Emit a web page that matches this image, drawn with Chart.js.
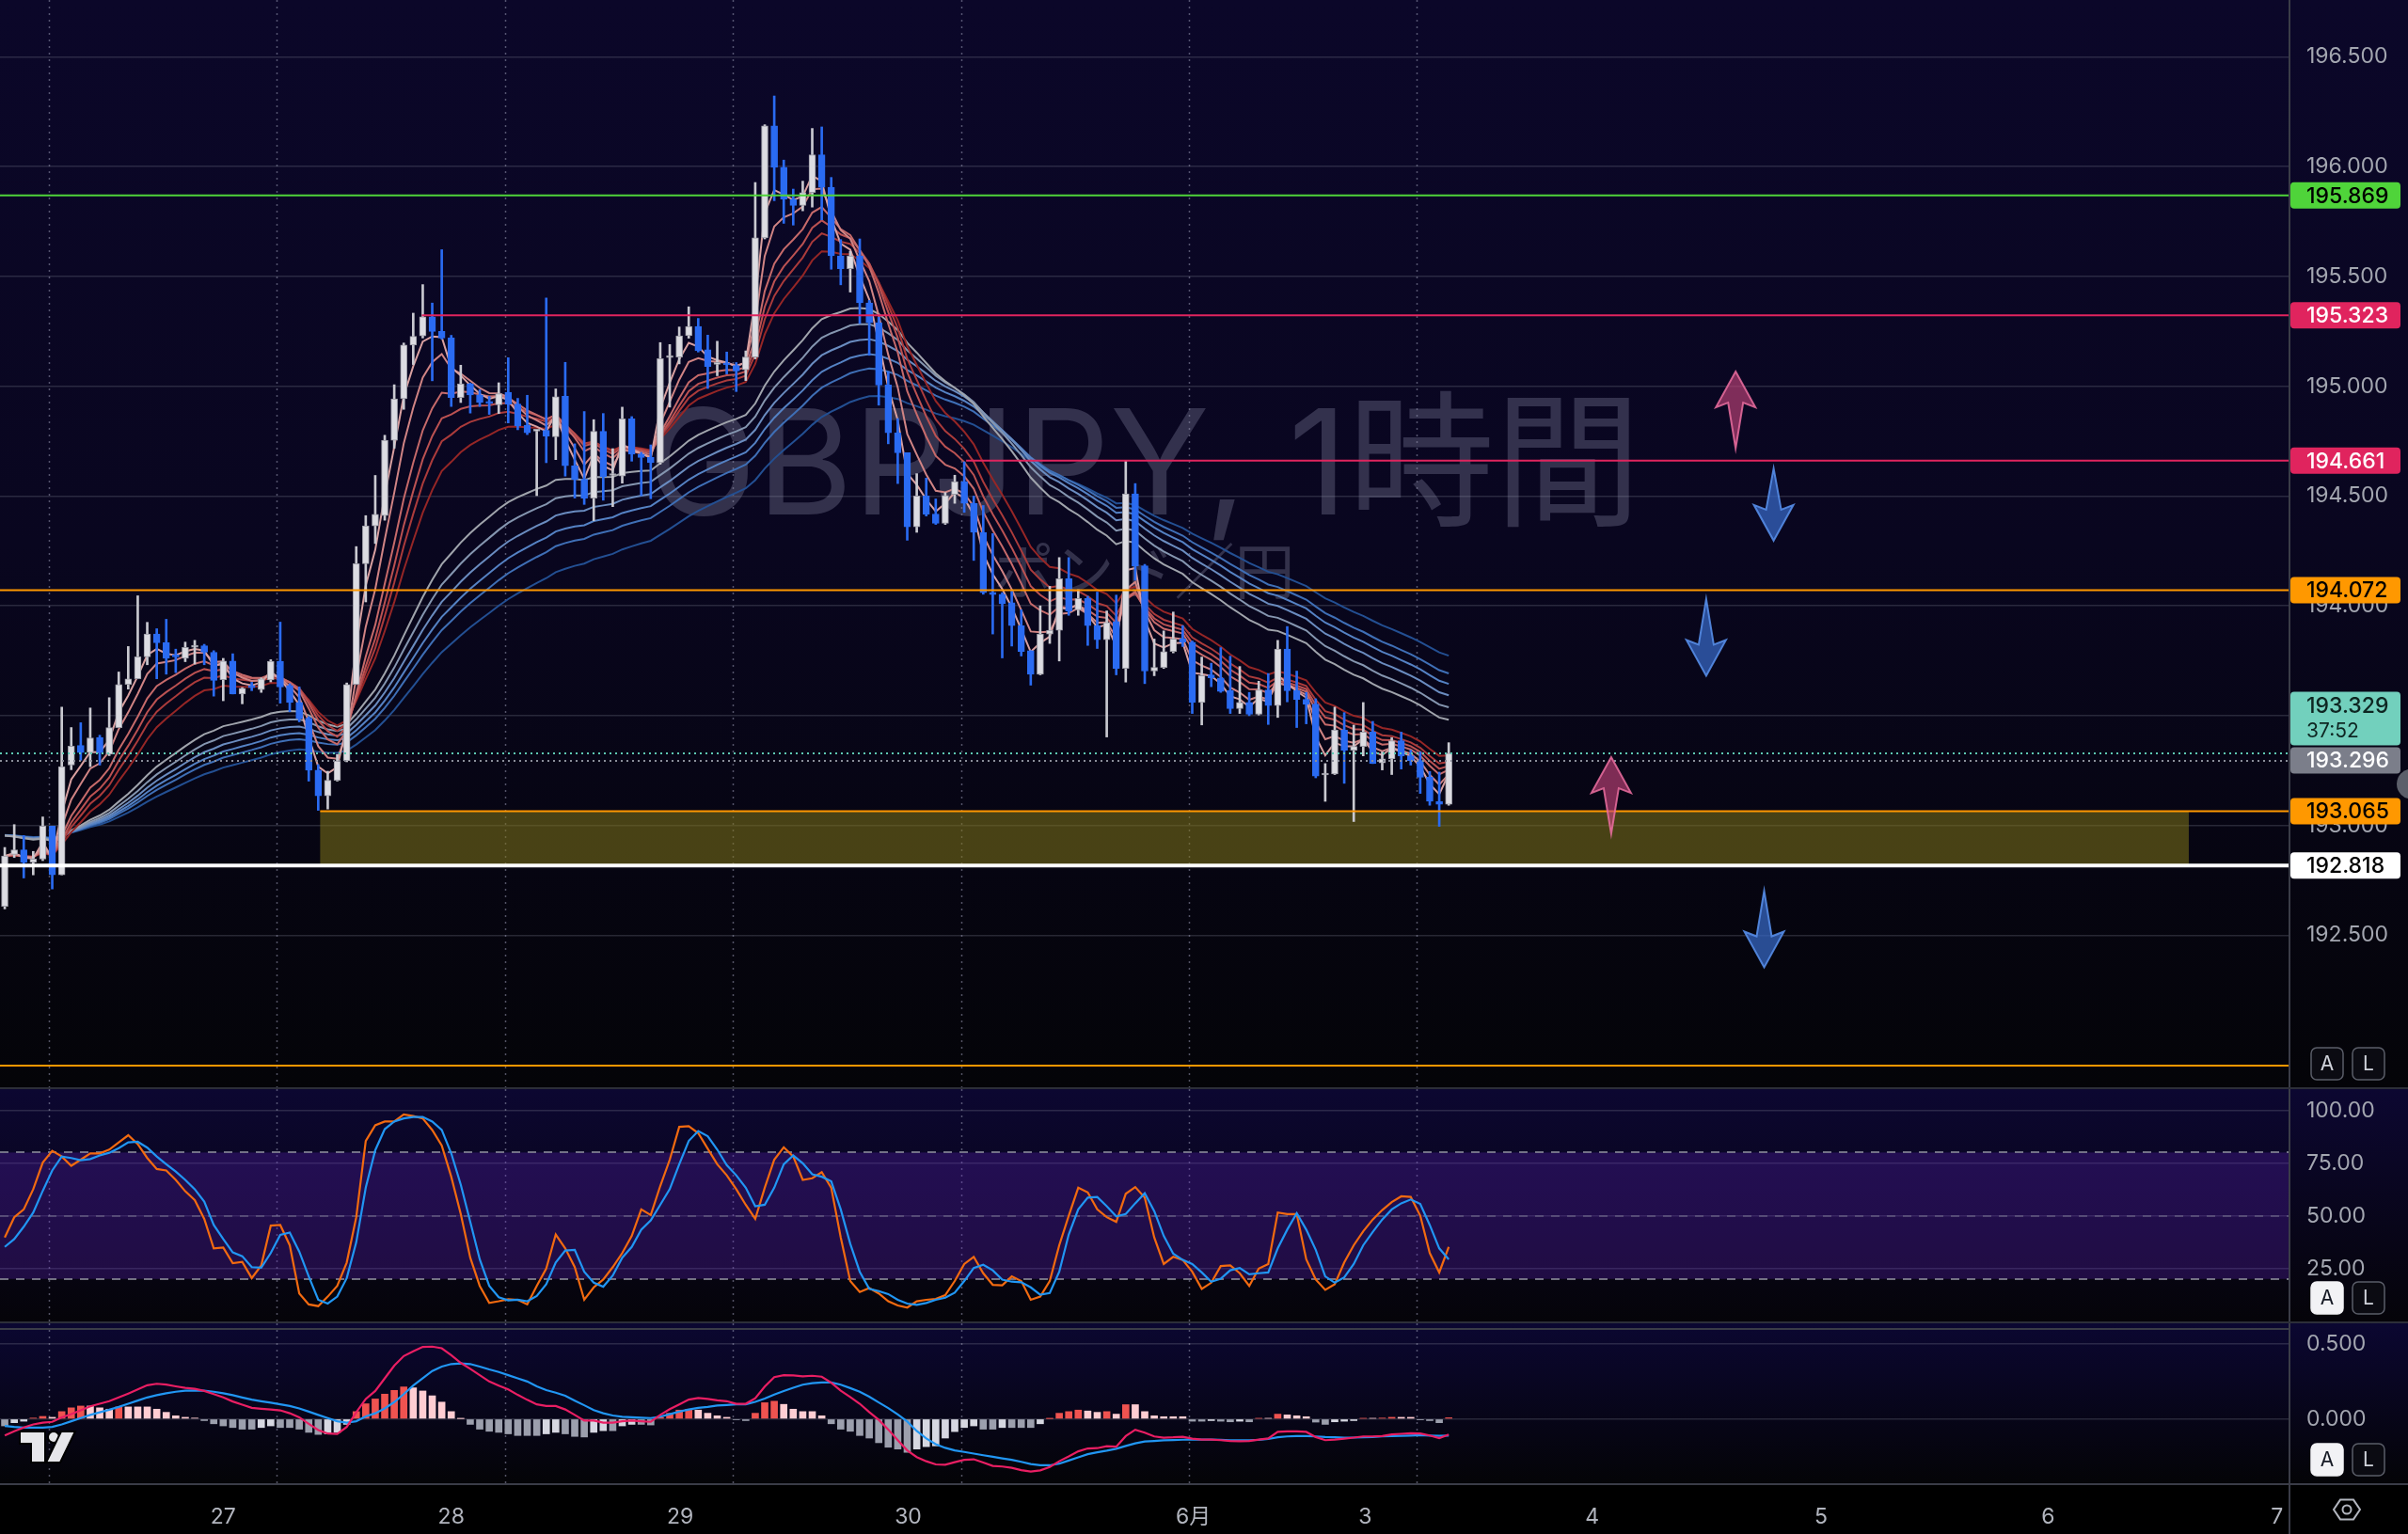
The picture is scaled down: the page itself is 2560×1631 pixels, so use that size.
<!DOCTYPE html>
<html>
<head>
<meta charset="utf-8">
<script src="https://cdn.jsdelivr.net/npm/chart.js@4.4.1/dist/chart.umd.min.js"></script>
<style>
  html, body { margin: 0; padding: 0; width: 2560px; height: 1631px; overflow: hidden; background: #2c2e38; }
  .pane { position: absolute; left: 0; width: 2560px; }
</style>
</head>
<body>
<div class="pane" style="top:0;height:1156px"><canvas id="main"></canvas></div>
<div class="pane" style="top:1158px;height:247px"><canvas id="stoch"></canvas></div>
<div class="pane" style="top:1407px;height:224px"><canvas id="macd"></canvas></div>
<script>
// GBPJPY 1h candles (bar index 0 = first visible bar)
const open = [
  192.632, 192.868, 192.889, 192.832, 192.847, 192.997, 192.775, 193.275, 193.364, 193.332,
  193.401, 193.325, 193.446, 193.642, 193.668, 193.768, 193.872, 193.832, 193.775, 193.761,
  193.812, 193.818, 193.789, 193.664, 193.749, 193.599, 193.637, 193.619, 193.663, 193.748,
  193.637, 193.560, 193.489, 193.252, 193.135, 193.206, 193.294, 193.642, 194.192, 194.364,
  194.411, 194.754, 194.943, 195.188, 195.229, 195.316, 195.250, 195.220, 194.949, 195.011,
  194.961, 194.930, 194.916, 194.973, 194.919, 194.823, 194.796, 194.799, 194.770, 194.955,
  194.638, 194.576, 194.491, 194.795, 194.594, 194.591, 194.852, 194.691, 194.676, 194.652,
  195.131, 195.133, 195.230, 195.273, 195.166, 195.100, 195.105, 195.095, 195.075, 195.133,
  195.676, 196.186, 195.997, 195.852, 195.824, 195.882, 196.054, 195.906, 195.594, 195.536,
  195.594, 195.380, 195.289, 195.006, 194.788, 194.697, 194.360, 194.500, 194.418, 194.376,
  194.508, 194.566, 194.467, 194.335, 194.062, 194.053, 194.014, 193.910, 193.796, 193.689,
  193.872, 193.889, 194.124, 193.982, 194.034, 193.910, 193.846, 193.929, 193.715, 194.510,
  194.182, 193.703, 193.720, 193.792, 193.849, 193.835, 193.560, 193.686, 193.672, 193.614,
  193.532, 193.560, 193.506, 193.617, 193.546, 193.803, 193.614, 193.574, 193.553, 193.230,
  193.235, 193.435, 193.343, 193.360, 193.425, 193.285, 193.303, 193.386, 193.317, 193.296,
  193.220, 193.110, 193.096
]
const high = [
  192.900, 193.004, 192.954, 192.882, 193.039, 192.997, 193.539, 193.446, 193.468, 193.535,
  193.411, 193.582, 193.699, 193.815, 194.046, 193.925, 193.896, 193.939, 193.803, 193.835,
  193.843, 193.825, 193.796, 193.761, 193.782, 193.628, 193.652, 193.672, 193.755, 193.926,
  193.645, 193.631, 193.495, 193.277, 193.247, 193.323, 193.649, 194.270, 194.411, 194.594,
  194.777, 195.007, 195.197, 195.333, 195.463, 195.379, 195.622, 195.232, 195.096, 195.014,
  194.984, 194.954, 195.016, 195.130, 194.945, 194.959, 194.802, 195.402, 194.988, 195.109,
  194.738, 194.885, 194.848, 194.876, 194.716, 194.905, 194.862, 194.699, 194.733, 195.199,
  195.190, 195.270, 195.362, 195.309, 195.233, 195.205, 195.156, 195.108, 195.161, 195.928,
  196.191, 196.322, 196.030, 195.898, 195.934, 196.174, 196.181, 195.951, 195.668, 195.615,
  195.671, 195.391, 195.314, 195.067, 194.853, 194.697, 194.602, 194.582, 194.487, 194.516,
  194.595, 194.656, 194.500, 194.457, 194.329, 194.060, 194.067, 193.982, 193.796, 194.000,
  194.089, 194.220, 194.220, 194.074, 194.044, 194.063, 193.977, 194.049, 194.660, 194.557,
  194.189, 193.849, 193.886, 193.972, 193.910, 193.840, 193.767, 193.739, 193.810, 193.771,
  193.724, 193.606, 193.657, 193.692, 193.843, 193.906, 193.703, 193.606, 193.577, 193.282,
  193.539, 193.514, 193.457, 193.560, 193.474, 193.335, 193.400, 193.425, 193.343, 193.335,
  193.246, 193.243, 193.377
]
const low = [
  192.620, 192.854, 192.761, 192.775, 192.840, 192.711, 192.775, 193.254, 193.297, 193.268,
  193.275, 193.318, 193.446, 193.621, 193.668, 193.732, 193.668, 193.689, 193.696, 193.746,
  193.735, 193.732, 193.589, 193.568, 193.599, 193.554, 193.614, 193.606, 193.654, 193.557,
  193.518, 193.472, 193.202, 193.069, 193.075, 193.202, 193.290, 193.642, 194.018, 194.284,
  194.390, 194.718, 194.895, 195.099, 195.220, 195.025, 195.215, 194.908, 194.926, 194.878,
  194.908, 194.872, 194.876, 194.833, 194.802, 194.780, 194.502, 194.652, 194.666, 194.591,
  194.491, 194.462, 194.388, 194.481, 194.452, 194.559, 194.659, 194.502, 194.488, 194.645,
  194.905, 195.102, 195.219, 195.156, 194.990, 195.048, 195.056, 194.976, 195.026, 195.125,
  195.671, 195.845, 195.742, 195.734, 195.799, 195.816, 195.758, 195.533, 195.462, 195.429,
  195.286, 195.141, 194.914, 194.738, 194.557, 194.299, 194.335, 194.409, 194.371, 194.371,
  194.467, 194.426, 194.207, 194.053, 193.872, 193.763, 193.817, 193.772, 193.639, 193.686,
  193.829, 193.749, 193.957, 193.957, 193.820, 193.806, 193.403, 193.686, 193.653, 194.117,
  193.646, 193.682, 193.715, 193.786, 193.815, 193.510, 193.458, 193.632, 193.606, 193.510,
  193.510, 193.500, 193.503, 193.460, 193.492, 193.563, 193.446, 193.463, 193.217, 193.110,
  193.232, 193.192, 193.018, 193.317, 193.282, 193.253, 193.232, 193.257, 193.275, 193.146,
  193.092, 192.996, 193.092
]
const close = [
  192.861, 192.889, 192.832, 192.847, 192.997, 192.775, 193.268, 193.361, 193.332, 193.399,
  193.332, 193.446, 193.642, 193.668, 193.768, 193.872, 193.832, 193.761, 193.768, 193.811,
  193.815, 193.789, 193.661, 193.749, 193.599, 193.625, 193.628, 193.667, 193.748, 193.631,
  193.560, 193.486, 193.252, 193.135, 193.206, 193.294, 193.642, 194.192, 194.364, 194.417,
  194.754, 194.943, 195.188, 195.227, 195.316, 195.250, 195.220, 194.949, 195.011, 194.961,
  194.926, 194.922, 194.966, 194.919, 194.819, 194.788, 194.800, 194.773, 194.952, 194.638,
  194.576, 194.491, 194.795, 194.588, 194.597, 194.852, 194.691, 194.676, 194.652, 195.126,
  195.133, 195.230, 195.273, 195.162, 195.090, 195.102, 195.098, 195.070, 195.133, 195.676,
  196.186, 195.997, 195.852, 195.824, 195.882, 196.054, 195.906, 195.594, 195.536, 195.594,
  195.380, 195.289, 195.006, 194.788, 194.697, 194.360, 194.500, 194.418, 194.376, 194.503,
  194.566, 194.467, 194.335, 194.060, 194.052, 194.010, 193.910, 193.792, 193.689, 193.872,
  193.889, 194.124, 193.977, 194.034, 193.910, 193.846, 193.925, 193.715, 194.510, 194.182,
  193.703, 193.720, 193.792, 193.849, 193.835, 193.560, 193.682, 193.672, 193.610, 193.532,
  193.560, 193.506, 193.617, 193.546, 193.803, 193.614, 193.574, 193.553, 193.225, 193.235,
  193.435, 193.343, 193.360, 193.425, 193.282, 193.303, 193.386, 193.317, 193.296, 193.220,
  193.110, 193.096, 193.329
]

// Stoch RSI %K / %D
const stochK = [
  39.7, 49.3, 53.0, 62.6, 75.2, 80.8, 78.1, 73.7, 76.6, 79.6,
  79.6, 81.4, 84.8, 88.2, 84.0, 77.4, 72.2, 71.5, 67.0, 61.6,
  57.4, 48.5, 34.5, 34.9, 27.5, 28.1, 20.4, 26.4, 45.3, 45.6,
  36.0, 13.1, 7.9, 7.1, 11.6, 16.7, 27.8, 49.3, 85.5, 92.9,
  94.7, 94.7, 98.1, 97.3, 96.2, 90.7, 83.3, 68.5, 50.8, 30.1,
  16.7, 8.6, 9.4, 10.4, 10.1, 7.9, 16.7, 24.9, 41.1, 34.5,
  25.6, 10.1, 16.0, 19.7, 25.6, 32.3, 40.4, 53.0, 50.3, 64.1,
  76.6, 92.2, 92.5, 89.2, 81.8, 74.4, 69.2, 62.6, 55.2, 48.5,
  63.3, 76.6, 82.5, 78.1, 67.0, 67.8, 70.7, 63.3, 39.7, 19.0,
  13.8, 15.7, 13.1, 9.4, 7.4, 6.4, 9.4, 10.1, 10.5, 12.3,
  19.0, 27.1, 30.5, 22.7, 17.2, 17.0, 21.2, 19.0, 10.1, 11.6,
  19.0, 36.0, 50.0, 63.3, 61.1, 53.0, 49.3, 47.1, 60.4, 63.6,
  58.6, 39.7, 27.1, 30.5, 29.0, 23.4, 15.3, 18.2, 26.1, 26.4,
  22.7, 16.7, 24.9, 27.1, 51.5, 50.8, 50.8, 29.3, 19.7, 14.8,
  17.5, 27.8, 36.0, 42.6, 48.2, 52.7, 56.5, 59.2, 58.9, 50.0,
  32.3, 23.1, 35.2
]
const stochD = [
  35.2, 38.9, 44.8, 51.5, 61.8, 71.5, 78.1, 77.4, 76.3, 76.9,
  78.6, 79.9, 82.1, 84.8, 85.1, 82.3, 78.1, 74.4, 71.0, 67.0,
  62.6, 56.7, 45.6, 38.9, 32.6, 30.8, 25.6, 25.3, 32.3, 40.9,
  42.0, 33.0, 21.2, 10.1, 8.3, 11.6, 20.4, 37.4, 63.3, 81.1,
  91.1, 94.7, 96.2, 96.9, 96.9, 94.7, 90.7, 79.6, 64.8, 47.1,
  29.3, 16.7, 11.3, 9.8, 10.1, 9.4, 11.9, 17.5, 27.8, 33.5,
  33.8, 23.4, 18.2, 16.3, 21.6, 30.1, 35.2, 43.4, 47.8, 55.2,
  62.6, 74.4, 85.5, 90.2, 87.7, 81.4, 74.0, 69.2, 63.3, 54.5,
  55.2, 63.3, 74.4, 78.6, 74.9, 69.7, 68.5, 66.3, 53.0, 36.7,
  23.4, 15.3, 14.2, 12.8, 10.1, 8.3, 7.7, 8.6, 10.1, 11.1,
  13.5, 19.0, 25.2, 26.7, 24.1, 19.7, 18.7, 18.4, 16.0, 12.5,
  13.3, 23.4, 41.1, 53.0, 58.6, 58.9, 54.5, 49.7, 50.8, 55.9,
  60.7, 52.2, 40.4, 32.0, 29.0, 27.1, 23.1, 18.7, 20.1, 24.1,
  25.2, 22.2, 22.7, 23.1, 34.5, 43.4, 51.2, 43.4, 33.8, 21.2,
  18.2, 20.7, 27.1, 36.0, 42.3, 48.2, 53.0, 55.9, 57.7, 55.6,
  45.6, 34.5, 29.3
]

// MACD line, signal, histogram
const macdLine = [
  -0.110, -0.082, -0.057, -0.036, -0.025, -0.019, 0.011, 0.032, 0.057, 0.084,
  0.101, 0.118, 0.143, 0.169, 0.196, 0.224, 0.234, 0.228, 0.217, 0.207,
  0.200, 0.186, 0.165, 0.143, 0.116, 0.095, 0.074, 0.068, 0.063, 0.057,
  0.038, 0.011, -0.032, -0.074, -0.097, -0.099, -0.053, 0.044, 0.133, 0.186,
  0.270, 0.354, 0.418, 0.449, 0.479, 0.481, 0.470, 0.424, 0.373, 0.333,
  0.291, 0.249, 0.222, 0.196, 0.160, 0.127, 0.097, 0.086, 0.086, 0.063,
  0.027, -0.011, -0.011, -0.025, -0.025, -0.015, -0.011, -0.015, -0.019, 0.027,
  0.065, 0.097, 0.129, 0.139, 0.133, 0.124, 0.118, 0.101, 0.101, 0.137,
  0.215, 0.278, 0.291, 0.289, 0.283, 0.287, 0.281, 0.241, 0.188, 0.146,
  0.101, 0.046, -0.006, -0.070, -0.141, -0.209, -0.253, -0.281, -0.302, -0.304,
  -0.287, -0.272, -0.268, -0.289, -0.312, -0.316, -0.325, -0.340, -0.350, -0.342,
  -0.319, -0.281, -0.249, -0.215, -0.196, -0.194, -0.181, -0.184, -0.114, -0.072,
  -0.091, -0.116, -0.124, -0.122, -0.118, -0.131, -0.137, -0.137, -0.141, -0.146,
  -0.148, -0.146, -0.137, -0.129, -0.086, -0.082, -0.082, -0.086, -0.120, -0.141,
  -0.137, -0.131, -0.124, -0.116, -0.116, -0.114, -0.103, -0.099, -0.095, -0.097,
  -0.110, -0.127, -0.103
]
const macdSignal = [
  -0.046, -0.053, -0.057, -0.057, -0.057, -0.053, -0.036, -0.015, 0.006, 0.027,
  0.044, 0.061, 0.080, 0.101, 0.122, 0.143, 0.158, 0.171, 0.181, 0.188,
  0.190, 0.188, 0.181, 0.171, 0.158, 0.143, 0.129, 0.118, 0.108, 0.097,
  0.086, 0.070, 0.049, 0.027, 0.006, -0.015, -0.025, -0.015, 0.017, 0.038,
  0.070, 0.112, 0.165, 0.222, 0.270, 0.319, 0.348, 0.365, 0.369, 0.365,
  0.348, 0.329, 0.312, 0.291, 0.270, 0.249, 0.217, 0.192, 0.175, 0.154,
  0.122, 0.091, 0.059, 0.038, 0.023, 0.015, 0.011, 0.008, 0.006, 0.015,
  0.032, 0.049, 0.063, 0.074, 0.080, 0.089, 0.093, 0.097, 0.097, 0.114,
  0.135, 0.162, 0.186, 0.207, 0.228, 0.238, 0.243, 0.243, 0.228, 0.205,
  0.181, 0.148, 0.110, 0.072, 0.030, -0.017, -0.080, -0.129, -0.167, -0.192,
  -0.209, -0.219, -0.230, -0.241, -0.251, -0.262, -0.272, -0.285, -0.300, -0.308,
  -0.308, -0.297, -0.276, -0.255, -0.234, -0.222, -0.211, -0.198, -0.179, -0.162,
  -0.150, -0.146, -0.142, -0.140, -0.138, -0.136, -0.137, -0.137, -0.139, -0.141,
  -0.141, -0.141, -0.139, -0.133, -0.122, -0.116, -0.114, -0.114, -0.116, -0.120,
  -0.122, -0.124, -0.124, -0.122, -0.120, -0.116, -0.114, -0.112, -0.110, -0.108,
  -0.110, -0.112, -0.110
]
const macdHist = [
  -0.046, -0.025, -0.015, 0.006, 0.017, 0.011, 0.049, 0.074, 0.086, 0.086,
  0.074, 0.065, 0.080, 0.080, 0.080, 0.080, 0.065, 0.044, 0.021, 0.011,
  0.006, -0.011, -0.032, -0.046, -0.057, -0.068, -0.068, -0.057, -0.046, -0.057,
  -0.057, -0.068, -0.089, -0.103, -0.099, -0.089, -0.036, 0.049, 0.101, 0.133,
  0.165, 0.190, 0.213, 0.207, 0.186, 0.154, 0.112, 0.049, 0.002, -0.036,
  -0.068, -0.082, -0.089, -0.099, -0.110, -0.110, -0.110, -0.099, -0.089, -0.099,
  -0.116, -0.120, -0.089, -0.078, -0.078, -0.046, -0.036, -0.036, -0.040, 0.011,
  0.038, 0.059, 0.065, 0.059, 0.038, 0.021, 0.011, -0.004, -0.011, 0.038,
  0.108, 0.118, 0.097, 0.065, 0.049, 0.049, 0.021, -0.032, -0.068, -0.082,
  -0.110, -0.127, -0.158, -0.188, -0.200, -0.222, -0.200, -0.184, -0.179, -0.127,
  -0.084, -0.057, -0.046, -0.068, -0.068, -0.057, -0.057, -0.057, -0.057, -0.032,
  0.002, 0.038, 0.049, 0.059, 0.053, 0.044, 0.049, 0.032, 0.095, 0.095,
  0.049, 0.021, 0.015, 0.015, 0.015, -0.015, -0.015, -0.011, -0.015, -0.019,
  -0.015, -0.019, 0.004, 0.004, 0.032, 0.027, 0.021, 0.015, -0.021, -0.036,
  -0.019, -0.015, -0.011, 0.004, 0.004, 0.006, 0.011, 0.011, 0.011, -0.006,
  -0.011, -0.025, 0.008
]

// axis ticks
const priceTicks = [192.5, 193, 193.5, 194, 194.5, 195, 195.5, 196, 196.5]
const stochTicks = [25, 50, 75, 100]
const stochLevels = [80, 50, 20]
const macdTicks = [0, 0.5]
const dayTickBars = [23, 47, 71.1, 95.1, 125.1, 143.2, 167.1, 191.2, 215.1, 239.2]
const dayTickText = ['27', '28', '29', '30', '6月', '3', '4', '5', '6', '7']
const gridBars = [4.65, 28.65, 52.65, 76.65, 100.65, 124.65, 148.65]

// drawn levels (price, bar where the ray starts; null = full width)
const levelPrice = [195.869, 195.323, 194.661, 194.072, 193.065, 192.818, 191.906]
const levelFrom = [null, 43.9, 101.2, null, 33.2, null, null]
const lastPrice = 193.329
const bidPrice = 193.296
const countdown = '37:52'

// support zone
const zoneBars = [33.2, 229.9]
const zonePrices = [193.065, 192.818]

// arrow drawings: bar, tip price, tail price
const arrowBar = [182.2, 169.1, 186.2, 179.1, 185.2]
const arrowTip = [195.067, 193.311, 194.297, 193.682, 192.354]
const arrowTail = [194.717, 192.962, 194.626, 194.031, 192.703]

// GMMA ribbon periods and the level they start from at the left edge
const shortPeriods = [3, 5, 8, 10, 12, 15]
const longPeriods = [30, 35, 40, 45, 50, 60]
const shortStart = 192.86
const longStart = 192.96

// ---------- styles ----------
const FONT = 'Inter, "Noto Sans CJK JP", "Noto Sans", sans-serif'
const AXIS_W = 127
const X_MIN = -0.5
const X_MAX = 240.4
const UP = '#dcdce2'
const UP_EDGE = '#9a9aa4'
const DOWN = '#2a6bf2'
const shortColors = ['#d9a0a0', '#d08484', '#c66a6a', '#bb5252', '#ab3b3b', '#952626']
const longColors = ['#a0a4ac', '#8596b0', '#6a8cc0', '#5582c4', '#3f6fb6', '#234f92']
const levelColor = ['#4fd43a', '#e0245e', '#e0245e', '#ff9800', '#ff9800', '#ffffff', '#ff9800']
const levelWidth = [2, 2, 2, 2, 2, 4, 2]
const tagFg = ['#000000', '#ffffff', '#ffffff', '#000000', '#000000', '#000000', null]

const bars = close.map((c, i) => i)
const ema = (n, start) => {
  const k = 2 / (n + 1)
  let v = start
  return close.map((c, i) => { v += k * (c - v); return { x: i, y: v } })
}

// ---------- shared plugins ----------
function paneBackground(stops) {
  return {
    id: 'paneBackground',
    beforeDraw(chart) {
      const { ctx, chartArea: a } = chart
      ctx.save()
      ctx.fillStyle = '#000000'
      ctx.fillRect(0, 0, chart.width, chart.height)
      const g = ctx.createLinearGradient(0, a.top, 0, a.bottom)
      stops.forEach(s => g.addColorStop(s[0], s[1]))
      ctx.fillStyle = g
      ctx.fillRect(0, a.top, chart.width, a.bottom - a.top)
      ctx.restore()
    },
  }
}

const timeGrid = {
  id: 'timeGrid',
  beforeDatasetsDraw(chart) {
    const { ctx, chartArea: a, scales: { x } } = chart
    ctx.save()
    ctx.strokeStyle = 'rgba(150,150,175,0.55)'
    ctx.lineWidth = 1.5
    ctx.setLineDash([2, 5])
    gridBars.forEach(b => {
      const px = Math.round(x.getPixelForValue(b)) + 0.5
      ctx.beginPath()
      ctx.moveTo(px, a.top)
      ctx.lineTo(px, a.bottom)
      ctx.stroke()
    })
    ctx.restore()
  },
}

function frame(filledA) {
  return {
    id: 'frame',
    afterDraw(chart) {
      const { ctx, chartArea: a } = chart
      ctx.save()
      ctx.fillStyle = '#3a3c47'
      ctx.fillRect(a.right, 0, 2, chart.height)
      const cy = a.bottom - 25
      ;[['A', a.right + 41, filledA], ['L', a.right + 85, false]].forEach(([t, cx, filled]) => {
        ctx.beginPath()
        ctx.roundRect(cx - 17, cy - 17, 34, 34, 6)
        ctx.fillStyle = filled ? '#f2f2f5' : '#0b0b12'
        ctx.fill()
        ctx.lineWidth = 1.5
        ctx.strokeStyle = filled ? '#f2f2f5' : '#5a5d68'
        ctx.stroke()
        ctx.fillStyle = filled ? '#131722' : '#d1d4dc'
        ctx.font = '21px ' + FONT
        ctx.textAlign = 'center'
        ctx.textBaseline = 'middle'
        ctx.fillText(t, cx, cy + 1)
      })
      ctx.restore()
    },
  }
}

const xHidden = {
  type: 'linear', min: X_MIN, max: X_MAX, offset: false, display: false,
}
function yAxis(min, max, ticks, digits, extra) {
  return Object.assign({
    type: 'linear', position: 'right', min, max, offset: false,
    afterBuildTicks: s => { s.ticks = ticks.map(v => ({ value: v })) },
    afterFit: s => { s.width = AXIS_W; s.paddingTop = 0; s.paddingBottom = 0 },
    grid: { color: 'rgba(120,123,140,0.30)', lineWidth: 1.5, drawTicks: false },
    border: { display: false },
    ticks: {
      color: '#a3a6b0', font: { size: 23, family: FONT }, padding: 19, crossAlign: 'near',
      callback: v => v.toFixed(digits),
    },
  }, extra || {})
}
const baseOptions = {
  responsive: true, maintainAspectRatio: false, animation: false, devicePixelRatio: 1,
  events: [], layout: { padding: 0 },
  plugins: { legend: { display: false }, tooltip: { enabled: false } },
}

// ---------- main price pane ----------
const mainDecor = {
  id: 'mainDecor',
  beforeDatasetsDraw(chart) {
    const { ctx, chartArea: a, scales: { x, y } } = chart
    ctx.save()
    // watermark
    ctx.fillStyle = 'rgba(150,150,178,0.30)'
    ctx.textAlign = 'center'
    ctx.textBaseline = 'middle'
    ctx.font = '156px ' + FONT
    ctx.fillText('GBPJPY, 1時間', (a.left + a.right) / 2, 500)
    ctx.font = '64px ' + FONT
    ctx.fillText('ポンド／円', (a.left + a.right) / 2, 612)
    // zone
    const zx0 = x.getPixelForValue(zoneBars[0]), zx1 = x.getPixelForValue(zoneBars[1])
    const zy0 = y.getPixelForValue(zonePrices[0]), zy1 = y.getPixelForValue(zonePrices[1])
    ctx.fillStyle = 'rgba(128,116,24,0.55)'
    ctx.fillRect(zx0, zy0, zx1 - zx0, zy1 - zy0)
    ctx.restore()
  },
  afterDatasetsDraw(chart) {
    const { ctx, chartArea: a, scales: { x, y } } = chart
    ctx.save()
    ctx.beginPath()
    ctx.rect(a.left, a.top, a.right - a.left, a.bottom - a.top)
    ctx.clip()
    levelPrice.forEach((p, k) => {
      const py = y.getPixelForValue(p)
      const px = levelFrom[k] === null ? a.left : x.getPixelForValue(levelFrom[k])
      ctx.strokeStyle = levelColor[k]
      ctx.lineWidth = levelWidth[k]
      ctx.beginPath()
      ctx.moveTo(px, py)
      ctx.lineTo(a.right, py)
      ctx.stroke()
    })
    ctx.setLineDash([2, 4])
    ctx.lineWidth = 2
    ;[[lastPrice, '#5ec9b3'], [bidPrice, '#8b8e9a']].forEach(([p, c]) => {
      const py = Math.round(y.getPixelForValue(p))
      ctx.strokeStyle = c
      ctx.beginPath()
      ctx.moveTo(a.left, py)
      ctx.lineTo(a.right, py)
      ctx.stroke()
    })
    ctx.setLineDash([])
    // arrows
    arrowBar.forEach((b, k) => {
      const cx = x.getPixelForValue(b)
      const tip = y.getPixelForValue(arrowTip[k])
      const tail = y.getPixelForValue(arrowTail[k])
      const d = tail > tip ? 1 : -1
      const up = d > 0
      ctx.beginPath()
      ctx.moveTo(cx, tip)
      ctx.lineTo(cx + 21, tip + d * 38)
      ctx.lineTo(cx + 8, tip + d * 33)
      ctx.lineTo(cx, tail)
      ctx.lineTo(cx - 8, tip + d * 33)
      ctx.lineTo(cx - 21, tip + d * 38)
      ctx.closePath()
      ctx.fillStyle = up ? 'rgba(200,70,125,0.62)' : 'rgba(55,105,200,0.72)'
      ctx.fill()
      ctx.lineWidth = 2
      ctx.strokeStyle = up ? 'rgba(235,110,160,0.85)' : 'rgba(85,140,230,0.9)'
      ctx.stroke()
    })
    ctx.restore()
  },
  afterDraw(chart) {
    const { ctx, chartArea: a, scales: { y } } = chart
    const x0 = a.right + 2, w = 117, h = 28
    ctx.save()
    ctx.textAlign = 'left'
    ctx.textBaseline = 'middle'
    const box = (top, hh, bg) => {
      ctx.fillStyle = bg
      ctx.beginPath()
      ctx.roundRect(x0, top, w, hh, 4)
      ctx.fill()
    }
    ctx.font = '500 23px ' + FONT
    levelPrice.forEach((p, k) => {
      if (!tagFg[k]) return
      const py = y.getPixelForValue(p)
      box(py - h / 2, h, levelColor[k])
      ctx.fillStyle = tagFg[k]
      ctx.fillText(p.toFixed(3), a.right + 19, py + 1)
    })
    const by = y.getPixelForValue(bidPrice)
    box(by - h / 2, h, '#7b7e8a')
    ctx.fillStyle = '#ffffff'
    ctx.fillText(bidPrice.toFixed(3), a.right + 19, by + 1)
    // last price tag stacks above the bid tag
    const lastBottom = by - h / 2 - 2
    box(lastBottom - 57, 57, '#72d0bd')
    ctx.fillStyle = '#0e2622'
    ctx.fillText(lastPrice.toFixed(3), a.right + 19, lastBottom - 41)
    ctx.font = '21px ' + FONT
    ctx.fillText(countdown, a.right + 19, lastBottom - 15)
    // scroll handle
    ctx.fillStyle = '#5c5f6a'
    ctx.beginPath()
    ctx.arc(chart.width + 4, y.getPixelForValue(bidPrice) + 25, 16, 0, Math.PI * 2)
    ctx.fill()
    ctx.restore()
  },
}

const ribbonSets = shortPeriods.map((n, k) => ({
  type: 'line', data: ema(n, shortStart), borderColor: shortColors[k], borderWidth: 2,
  pointRadius: 0, order: 3,
})).concat(longPeriods.map((n, k) => ({
  type: 'line', data: ema(n, longStart), borderColor: longColors[k], borderWidth: 2,
  pointRadius: 0, order: 4,
})))

const isUp = i => close[i] >= open[i]

new Chart(document.getElementById('main'), {
  type: 'bar',
  data: {
    datasets: ribbonSets.concat([
      {
        type: 'bar', order: 2, grouped: false, barThickness: 2,
        data: bars.map(i => ({ x: i, y: [low[i], high[i]] })),
        backgroundColor: c => isUp(c.dataIndex) ? '#c9c9d0' : DOWN,
      },
      {
        type: 'bar', order: 1, grouped: false, barThickness: 7, minBarLength: 2,
        data: bars.map(i => ({ x: i, y: [open[i], close[i]] })),
        backgroundColor: c => isUp(c.dataIndex) ? UP : DOWN,
        borderColor: c => isUp(c.dataIndex) ? UP_EDGE : DOWN,
        borderWidth: 1, borderSkipped: false,
      },
    ]),
  },
  options: Object.assign({}, baseOptions, {
    scales: { x: xHidden, y: yAxis(191.808, 196.759, priceTicks, 3) },
  }),
  plugins: [
    paneBackground([[0, '#0b0729'], [0.5, '#09061f'], [1, '#040408']]),
    timeGrid, mainDecor, frame(false),
  ],
})

// ---------- Stoch RSI pane ----------
const stochDecor = {
  id: 'stochDecor',
  beforeDatasetsDraw(chart) {
    const { ctx, chartArea: a, scales: { y } } = chart
    const y80 = y.getPixelForValue(stochLevels[0]), y20 = y.getPixelForValue(stochLevels[2])
    ctx.save()
    ctx.fillStyle = 'rgba(100,35,200,0.28)'
    ctx.fillRect(a.left, y80, a.right - a.left, y20 - y80)
    ctx.setLineDash([9, 8])
    ctx.lineWidth = 2
    stochLevels.forEach((v, k) => {
      const py = Math.round(y.getPixelForValue(v))
      ctx.strokeStyle = k === 1 ? 'rgba(130,130,150,0.45)' : 'rgba(140,140,155,0.8)'
      ctx.beginPath()
      ctx.moveTo(a.left, py)
      ctx.lineTo(a.right, py)
      ctx.stroke()
    })
    ctx.restore()
  },
}

new Chart(document.getElementById('stoch'), {
  type: 'line',
  data: {
    datasets: [
      { data: bars.map(i => ({ x: i, y: stochD[i] })), borderColor: '#2196f3', borderWidth: 2.2, pointRadius: 0 },
      { data: bars.map(i => ({ x: i, y: stochK[i] })), borderColor: '#f26a10', borderWidth: 2.2, pointRadius: 0 },
    ],
  },
  options: Object.assign({}, baseOptions, {
    scales: { x: xHidden, y: yAxis(-0.18, 110.09, stochTicks, 2) },
  }),
  plugins: [
    paneBackground([[0, '#0c0731'], [1, '#050409']]),
    timeGrid, stochDecor, frame(true),
  ],
})

// ---------- MACD pane ----------
const macdDecor = {
  id: 'macdDecor',
  afterDraw(chart) {
    const { ctx, chartArea: a } = chart
    ctx.save()
    ctx.fillStyle = '#3a3c47'
    ctx.fillRect(0, 5, a.right, 2)
    ctx.fillRect(0, a.bottom, chart.width, 2)
    // TradingView logo
    ctx.fillStyle = '#e6e6ea'
    ctx.strokeStyle = '#000000'
    ctx.lineWidth = 2
    ctx.beginPath()
    ctx.moveTo(21, 115); ctx.lineTo(48, 115); ctx.lineTo(48, 148); ctx.lineTo(33, 148)
    ctx.lineTo(33, 128); ctx.lineTo(21, 128); ctx.closePath()
    ctx.fill(); ctx.stroke()
    ctx.beginPath(); ctx.arc(57, 121, 6, 0, Math.PI * 2); ctx.fill(); ctx.stroke()
    ctx.beginPath()
    ctx.moveTo(65, 115); ctx.lineTo(80, 115); ctx.lineTo(64, 148); ctx.lineTo(49, 148); ctx.closePath()
    ctx.fill(); ctx.stroke()
    // settings icon
    const gx = a.right + 62, gy = a.bottom + 28
    ctx.strokeStyle = '#b2b5be'
    ctx.lineWidth = 2
    ctx.beginPath()
    for (let k = 0; k < 6; k++) {
      const t = Math.PI / 3 * k
      const px = gx + 14 * Math.cos(t), py = gy + 12 * Math.sin(t)
      k ? ctx.lineTo(px, py) : ctx.moveTo(px, py)
    }
    ctx.closePath(); ctx.stroke()
    ctx.beginPath(); ctx.arc(gx, gy, 4.5, 0, Math.PI * 2); ctx.stroke()
    ctx.restore()
  },
}

const histColor = c => {
  const i = c.dataIndex, v = macdHist[i], prev = i ? macdHist[i - 1] : v
  if (v >= 0) return prev < v ? '#ef5350' : '#ffcdd2'
  return prev < v ? '#d6d7e1' : '#9c9fad'
}

new Chart(document.getElementById('macd'), {
  type: 'bar',
  data: {
    datasets: [
      {
        type: 'bar', order: 3, barThickness: 7, grouped: false,
        data: bars.map(i => ({ x: i, y: macdHist[i] })), backgroundColor: histColor,
      },
      { type: 'line', order: 2, data: bars.map(i => ({ x: i, y: macdSignal[i] })), borderColor: '#2196f3', borderWidth: 2.2, pointRadius: 0 },
      { type: 'line', order: 1, data: bars.map(i => ({ x: i, y: macdLine[i] })), borderColor: '#e91e63', borderWidth: 2.2, pointRadius: 0 },
    ],
  },
  options: Object.assign({}, baseOptions, {
    scales: {
      x: {
        type: 'linear', min: X_MIN, max: X_MAX, offset: false, position: 'bottom',
        grid: { display: false }, border: { display: false },
        afterBuildTicks: s => { s.ticks = dayTickBars.map(v => ({ value: v })) },
        afterFit: s => { s.height = 54; s.paddingLeft = 0; s.paddingRight = 0 },
        ticks: {
          autoSkip: false, maxRotation: 0, color: '#b2b5be', padding: 14,
          font: { size: 23, family: FONT }, callback: (v, i) => dayTickText[i],
        },
      },
      y: yAxis(-0.427, 0.6356, macdTicks, 3),
    },
  }),
  plugins: [
    paneBackground([[0, '#0b0731'], [1, '#040407']]),
    timeGrid, macdDecor, frame(true),
  ],
})
</script>
</body>
</html>
